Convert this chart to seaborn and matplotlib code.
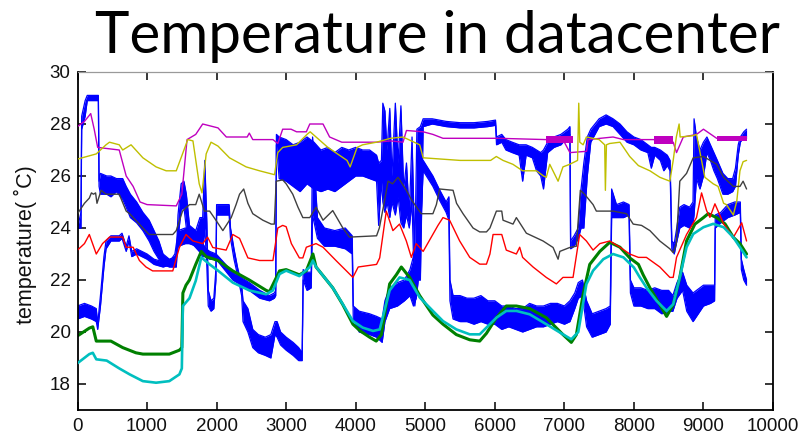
import matplotlib
matplotlib.use("Agg")
import matplotlib.pyplot as plt
import seaborn as sns

# ---------------- sensor readings (sample index -> temperature, deg C) ----------------
magenta_x = [0, 100, 190, 240, 290, 600, 700, 800, 900, 1000, 1420, 1500, 1575, 1700, 1800,
             2020, 2140, 2440, 2470, 2520, 2810, 2880, 2950, 3070, 3150, 3290, 3340, 3530, 3625,
             3800, 4036, 4300, 4500, 4680, 4730, 4970, 5110, 5255, 6050, 6740, 6980, 7080, 7320,
             7340, 7700, 7850, 8280, 8565, 8613, 8710, 8900, 9000, 9190, 9620]
magenta_t = [27.9, 28.1, 28.4, 27.8, 27.1, 27.0, 26.0, 25.6, 25.0, 24.9, 24.85, 25.3, 27.4, 27.6, 28.0,
             27.85, 27.5, 27.5, 27.65, 27.4, 27.4, 27.25, 27.8, 27.8, 27.7, 27.7, 28.0, 28.0, 27.5,
             27.3, 27.3, 27.3, 27.35, 27.3, 27.75, 27.7, 27.6, 27.45, 27.45, 27.4, 27.4, 26.9, 26.95,
             27.4, 27.5, 27.4, 27.4, 27.3, 26.9, 27.5, 27.6, 27.8, 27.45, 27.45]
# short stretches where the magenta sensor flickers between two levels
magenta_flicker_start = [6740, 8290, 9200]
magenta_flicker_end = [7120, 8560, 9620]
magenta_flicker_lo = [27.28, 27.22, 27.35]
magenta_flicker_hi = [27.52, 27.52, 27.55]

yellow_x = [0, 270, 410, 460, 600, 650, 770, 940, 1130, 1275, 1420, 1510, 1585, 1660, 1750,
            1790, 1850, 1920, 2020, 2185, 2425, 2617, 2833, 2880, 2950, 3150, 3300, 3345, 3600, 3875,
            3920, 4020, 4100, 4300, 4500, 4680, 4920, 4970, 5500, 5940, 6022, 6118, 6260, 6400, 6600,
            6700, 6740, 6790, 6910, 6980, 7077, 7190, 7207, 7222, 7270, 7317, 7500, 7580, 7590, 7605,
            7650, 7800, 7940, 8065, 8230, 8373, 8517, 8565, 8610, 8650, 8665, 8850, 8900, 9020, 9140,
            9210, 9290, 9330, 9430, 9480, 9525, 9570, 9620]
yellow_t = [26.65, 26.85, 27.2, 27.3, 27.2, 27.0, 27.2, 26.7, 26.35, 26.2, 26.2, 26.85, 27.4, 27.35, 25.7,
            25.35, 26.85, 27.3, 27.15, 26.7, 26.35, 26.2, 26.05, 26.9, 27.1, 27.2, 27.6, 27.7, 27.1, 26.6,
            26.35, 27.1, 27.2, 27.3, 27.45, 27.5, 27.2, 26.7, 26.6, 26.6, 26.75, 26.6, 26.45, 26.2, 26.2,
            26.0, 25.95, 26.45, 25.8, 26.35, 26.45, 26.6, 28.8, 27.3, 27.2, 27.5, 27.4, 27.2, 25.45, 27.2,
            27.25, 27.3, 26.75, 26.4, 26.2, 25.95, 25.8, 26.6, 27.5, 28.0, 27.5, 27.55, 27.6, 25.95, 25.7,
            25.6, 24.95, 24.9, 24.5, 25.05, 26.2, 26.55, 26.6]

gray_x = [0, 100, 170, 200, 230, 260, 280, 340, 410, 600, 700, 750, 940, 1030, 1370,
          1420, 1510, 1610, 1700, 1750, 1825, 1900, 1990, 2090, 2210, 2280, 2330, 2390, 2450, 2520,
          2665, 2785, 2830, 2857, 2950, 3000, 3095, 3170, 3240, 3340, 3430, 3480, 3530, 3670, 3815,
          3910, 4300, 4340, 4415, 4465, 4530, 4608, 4728, 4810, 4943, 5110, 5160, 5207, 5400, 5450,
          5543, 5687, 5783, 5880, 5930, 6023, 6100, 6118, 6262, 6310, 6454, 6694, 6838, 6910, 6935,
          7077, 7173, 7230, 7290, 7413, 7460, 7700, 7893, 7990, 8110, 8230, 8373, 8517, 8565, 8610,
          8660, 8757, 8853, 9000, 9190, 9290, 9430, 9525, 9570, 9620]
gray_t = [24.55, 24.95, 25.15, 25.35, 25.3, 25.35, 24.95, 25.45, 25.3, 25.3, 24.65, 24.55, 24.0, 23.75, 23.75,
          23.9, 24.65, 24.9, 24.9, 25.3, 24.65, 24.65, 24.3, 23.9, 24.4, 24.9, 25.3, 25.5, 24.95, 24.55,
          24.3, 24.15, 24.15, 25.8, 25.85, 25.7, 25.3, 24.8, 24.4, 24.4, 24.8, 24.55, 24.3, 24.67, 24.0,
          23.65, 23.7, 24.0, 25.05, 25.8, 25.7, 25.95, 25.45, 25.05, 24.55, 24.55, 24.9, 25.5, 25.45, 24.95,
          24.55, 24.0, 23.85, 23.85, 24.0, 24.65, 24.65, 24.3, 24.15, 24.4, 23.8, 23.5, 23.25, 22.8, 23.1,
          23.25, 23.3, 25.45, 25.3, 24.9, 24.65, 24.65, 24.55, 24.15, 24.1, 23.9, 23.5, 23.2, 23.05, 23.4,
          25.8, 26.1, 26.7, 26.75, 26.45, 25.95, 25.6, 25.6, 25.8, 25.5]

red_x = [0, 100, 170, 270, 360, 460, 650, 700, 800, 890, 985, 1080, 1370, 1465, 1560,
         1660, 1800, 1870, 1945, 2137, 2233, 2330, 2450, 2617, 2810, 2880, 2950, 3000, 3075, 3190,
         3240, 3290, 3430, 3530, 3720, 3863, 3960, 4036, 4300, 4345, 4440, 4535, 4630, 4728, 4800,
         4870, 4970, 5183, 5255, 5350, 5495, 5640, 5783, 5880, 5930, 5975, 6100, 6165, 6310, 6358,
         6400, 6550, 6740, 6885, 6980, 7125, 7220, 7317, 7413, 7510, 7653, 7800, 7940, 8065, 8180,
         8373, 8517, 8565, 8613, 8757, 8900, 8973, 9045, 9093, 9165, 9290, 9430, 9550, 9620]
red_t = [23.15, 23.4, 23.75, 23.0, 23.4, 23.65, 23.65, 23.26, 23.26, 22.75, 22.5, 22.35, 22.35, 23.25, 23.75,
         23.5, 23.4, 23.65, 23.25, 23.15, 23.75, 23.6, 22.85, 22.75, 22.75, 24.0, 24.1, 24.05, 23.4, 22.85,
         22.85, 23.26, 23.4, 23.26, 22.74, 22.36, 22.1, 22.5, 22.6, 22.85, 24.65, 23.9, 24.15, 23.5, 22.87,
         23.4, 23.1, 24.1, 24.4, 24.3, 23.5, 22.87, 22.61, 22.61, 23.0, 23.75, 23.75, 23.15, 23.0, 23.26,
         22.87, 22.5, 22.1, 21.85, 22.1, 22.1, 23.75, 23.5, 23.15, 23.4, 23.5, 23.26, 23.0, 22.87, 22.87,
         22.5, 22.1, 22.1, 22.87, 23.75, 24.4, 25.35, 24.67, 24.41, 24.93, 24.16, 23.64, 24.2, 23.5]

green_x = [0, 170, 220, 270, 480, 650, 840, 940, 1320, 1465, 1500, 1515, 1560, 1610, 1700,
           1780, 1850, 2020, 2233, 2470, 2713, 2760, 2905, 3000, 3190, 3290, 3385, 3430, 3670, 3815,
           3960, 4060, 4200, 4295, 4370, 4488, 4584, 4656, 4775, 4920, 5110, 5255, 5447, 5640, 5783,
           5880, 6023, 6165, 6310, 6502, 6740, 6980, 7100, 7173, 7270, 7365, 7510, 7653, 7800, 7940,
           8065, 8133, 8230, 8373, 8470, 8565, 8660, 8757, 8877, 9000, 9068, 9190, 9310, 9430, 9525,
           9620]
green_t = [19.85, 20.15, 20.2, 19.65, 19.65, 19.4, 19.2, 19.15, 19.15, 19.3, 19.4, 21.5, 21.8, 22.0, 22.6,
           23.1, 22.9, 22.75, 22.35, 22.0, 21.6, 21.55, 22.35, 22.4, 22.2, 22.35, 23.0, 22.5, 21.7, 21.05,
           20.3, 20.05, 19.8, 19.65, 19.9, 21.85, 22.2, 22.5, 22.1, 21.4, 20.65, 20.3, 19.9, 19.7, 19.65,
           19.95, 20.55, 21.0, 21.0, 20.9, 20.55, 19.9, 19.6, 19.9, 21.45, 22.6, 23.1, 23.45, 23.26, 22.85,
           22.6, 22.2, 21.7, 21.05, 20.6, 21.05, 22.1, 23.5, 24.15, 24.4, 24.55, 24.4, 24.16, 23.64, 23.4,
           23.0]

cyan_x = [0, 170, 220, 270, 420, 600, 750, 940, 1130, 1320, 1465, 1500, 1515, 1610, 1700,
          1780, 1900, 2020, 2233, 2470, 2713, 2810, 2905, 3000, 3190, 3340, 3385, 3430, 3670, 3815,
          3960, 4100, 4250, 4345, 4488, 4630, 4775, 4920, 5110, 5255, 5447, 5640, 5783, 5880, 6023,
          6165, 6310, 6502, 6740, 6980, 7100, 7200, 7317, 7413, 7560, 7700, 7850, 8000, 8085, 8180,
          8325, 8470, 8565, 8660, 8757, 8853, 9000, 9140, 9290, 9430, 9525, 9620]
cyan_t = [18.8, 19.15, 19.2, 18.95, 18.9, 18.6, 18.37, 18.11, 18.05, 18.11, 18.37, 18.6, 21.0, 21.3, 21.97,
          22.87, 22.6, 22.36, 21.9, 21.6, 21.45, 21.6, 22.23, 22.36, 22.15, 22.5, 22.75, 22.5, 21.7, 21.07,
          20.42, 20.17, 20.04, 20.1, 21.6, 22.1, 22.0, 21.33, 20.81, 20.42, 20.1, 19.91, 19.91, 20.17, 20.55,
          20.81, 20.81, 20.68, 20.3, 19.91, 19.72, 20.0, 21.84, 22.36, 22.8, 23.0, 22.87, 22.48, 22.1, 21.71,
          21.2, 20.81, 21.07, 22.1, 23.26, 23.77, 24.03, 24.16, 24.03, 23.64, 23.26, 22.87]

# the two noisy blue sensors: lower / upper edge of the jitter band at each sample
blue1_x = [0, 50, 60, 110, 140, 300, 310, 330, 420, 480,
           560, 650, 700, 760, 850, 940, 1030, 1100, 1170, 1230,
           1320, 1420, 1445, 1490, 1530, 1565, 1610, 1700, 1760, 1800,
           1830, 1860, 1880, 1920, 1960, 1990, 2000, 2180, 2200, 2250,
           2300, 2360, 2380, 2450, 2520, 2600, 2700, 2780, 2840, 2870,
           2920, 3000, 3100, 3180, 3230, 3245, 3300, 3360, 3380, 3450,
           3550, 3700, 3850, 3950, 3965, 4050, 4200, 4300, 4380, 4420,
           4488, 4600, 4700, 4780, 4830, 4870, 4900, 4970, 5110, 5200,
           5300, 5340, 5355, 5400, 5500, 5600, 5700, 5800, 5900, 6000,
           6100, 6200, 6300, 6400, 6500, 6600, 6700, 6800, 6900, 7000,
           7080, 7150, 7200, 7260, 7320, 7400, 7500, 7600, 7660, 7680,
           7750, 7850, 7930, 7950, 8000, 8100, 8200, 8300, 8400, 8500,
           8560, 8620, 8700, 8760, 8850, 8900, 9000, 9100, 9160, 9170,
           9250, 9350, 9450, 9530, 9545, 9580, 9620]
blue1_lo = [24.0, 24.0, 27.8, 28.3, 28.9, 28.9, 25.6, 25.3, 25.3, 25.2,
            25.4, 25.1, 24.8, 24.4, 24.2, 23.9, 23.5, 23.1, 22.8, 22.6,
            22.5, 22.5, 23.6, 24.7, 24.8, 24.0, 23.4, 23.3, 23.5, 23.2,
            24.0, 22.5, 21.0, 20.8, 20.9, 22.0, 24.5, 24.5, 23.6, 22.8,
            22.2, 21.4, 20.4, 20.0, 19.4, 19.2, 19.1, 19.0, 19.9, 19.8,
            19.5, 19.3, 19.1, 18.9, 18.9, 22.0, 21.6, 21.7, 24.5, 23.6,
            23.3, 23.3, 23.2, 23.0, 20.5, 20.0, 19.9, 19.8, 19.6, 20.4,
            20.9, 21.0, 21.2, 21.4, 21.0, 21.3, 22.0, 26.2, 25.6, 25.1,
            24.6, 24.3, 21.2, 20.5, 20.4, 20.4, 20.3, 20.4, 20.3, 20.3,
            20.1, 20.2, 20.1, 20.0, 20.1, 20.2, 20.2, 20.3, 20.4, 20.3,
            20.4, 20.9, 21.3, 21.4, 20.2, 19.8, 19.9, 20.0, 20.3, 24.4,
            24.4, 24.4, 24.5, 21.5, 21.0, 21.0, 20.9, 20.9, 20.7, 20.8,
            20.8, 21.3, 21.6, 20.8, 20.4, 20.6, 21.0, 21.1, 21.2, 24.0,
            24.2, 24.4, 24.5, 24.6, 22.4, 22.0, 21.8]
blue1_hi = [24.0, 24.6, 28.3, 28.9, 29.1, 29.1, 25.8, 26.1, 26.0, 26.0,
            25.9, 25.9, 25.6, 25.3, 25.0, 24.6, 24.3, 23.9, 23.5, 23.0,
            22.8, 22.9, 24.5, 25.7, 25.8, 25.3, 24.1, 23.9, 24.4, 24.4,
            26.6, 24.2, 21.6, 21.2, 21.3, 22.4, 24.9, 24.9, 24.0, 23.2,
            22.5, 21.8, 21.2, 20.9, 20.1, 19.9, 19.8, 19.9, 20.4, 20.4,
            20.0, 19.8, 19.6, 19.4, 19.2, 22.4, 22.3, 22.3, 27.5, 24.4,
            24.0, 23.9, 24.0, 23.7, 21.0, 20.8, 20.7, 20.6, 20.5, 21.2,
            21.7, 21.9, 22.0, 22.4, 22.9, 21.8, 26.5, 26.6, 26.0, 25.5,
            25.0, 25.2, 22.0, 21.4, 21.4, 21.3, 21.3, 21.4, 21.2, 21.2,
            21.0, 21.0, 20.9, 20.9, 21.1, 21.0, 21.0, 21.1, 21.1, 21.0,
            21.2, 21.5, 21.9, 22.0, 21.2, 20.7, 20.8, 20.9, 21.0, 25.5,
            24.9, 25.0, 24.9, 22.0, 21.7, 21.7, 21.6, 21.7, 21.6, 21.6,
            21.4, 21.9, 22.3, 21.8, 21.5, 21.6, 21.8, 21.8, 21.8, 24.5,
            24.6, 24.9, 25.0, 25.0, 22.8, 22.4, 22.0]

blue2_x = [0, 100, 200, 270, 290, 330, 380, 410, 480, 600,
           640, 700, 740, 780, 850, 1000, 1100, 1230, 1350, 1400,
           1450, 1550, 1650, 1750, 1800, 1850, 1900, 1993, 2233, 2470,
           2620, 2760, 2830, 2850, 2860, 2900, 3000, 3100, 3200, 3300,
           3400, 3500, 3600, 3700, 3800, 3900, 4000, 4100, 4200, 4300,
           4330, 4370, 4390, 4420, 4450, 4490, 4520, 4570, 4610, 4650,
           4690, 4730, 4770, 4810, 4850, 4880, 4930, 4970, 5100, 5300,
           5500, 5700, 5900, 6010, 6025, 6100, 6160, 6250, 6350, 6400,
           6450, 6540, 6600, 6660, 6700, 6760, 6850, 6950, 7050, 7080,
           7090, 7140, 7200, 7240, 7280, 7330, 7380, 7440, 7500, 7600,
           7700, 7800, 7900, 8000, 8100, 8200, 8250, 8300, 8380, 8430,
           8480, 8520, 8545, 8580, 8610, 8660, 8720, 8800, 8850, 8865,
           8900, 8950, 9000, 9050, 9100, 9150, 9200, 9280, 9350, 9420,
           9460, 9500, 9530, 9580, 9620]
blue2_lo = [20.5, 20.6, 20.5, 20.4, 20.1, 21.0, 22.5, 23.2, 23.5, 23.5,
            23.6, 23.1, 23.5, 22.9, 23.0, 22.8, 22.6, 22.5, 22.6, 22.8,
            23.3, 23.4, 23.4, 23.1, 22.9, 22.9, 22.8, 22.8, 22.0, 21.6,
            21.3, 21.2, 21.3, 21.4, 27.2, 25.9, 25.8, 25.6, 25.4, 25.7,
            25.5, 25.4, 25.5, 25.4, 25.6, 25.8, 26.0, 26.0, 25.9, 25.8,
            24.1, 25.8, 25.0, 24.6, 25.0, 24.4, 25.0, 24.5, 25.2, 24.2,
            24.0, 24.5, 24.0, 25.0, 21.0, 22.0, 22.0, 27.9, 28.0, 27.9,
            27.85, 27.85, 27.9, 27.95, 27.2, 27.3, 27.0, 26.9, 26.8, 25.8,
            26.8, 26.7, 26.2, 26.0, 25.5, 26.9, 27.1, 27.2, 27.5, 27.6,
            23.2, 23.3, 23.6, 24.0, 24.0, 26.0, 27.3, 27.6, 27.9, 28.0,
            27.9, 27.6, 27.3, 27.2, 27.0, 26.9, 26.3, 26.8, 26.6, 26.2,
            26.4, 26.2, 23.2, 23.0, 23.4, 24.0, 24.1, 24.0, 24.2, 24.5,
            25.9, 25.5, 26.0, 26.9, 26.6, 26.2, 25.9, 25.3, 25.3, 25.4,
            25.6, 26.8, 27.3, 27.5, 27.5]
blue2_hi = [21.0, 21.1, 21.0, 20.9, 20.3, 21.4, 22.9, 23.5, 23.7, 23.7,
            23.8, 23.3, 23.7, 23.1, 23.2, 23.0, 22.8, 22.7, 22.8, 23.0,
            23.9, 24.0, 23.8, 23.6, 23.4, 23.2, 23.1, 23.0, 22.3, 21.9,
            21.6, 21.4, 21.5, 21.6, 27.6, 27.5, 27.4, 27.2, 27.3, 27.5,
            27.3, 27.0, 27.1, 26.9, 27.1, 27.0, 27.1, 27.0, 27.0, 26.8,
            26.5, 26.6, 28.8, 28.5, 27.0, 28.6, 26.0, 28.8, 26.5, 28.7,
            25.5, 26.5, 24.5, 27.5, 23.0, 27.8, 27.9, 28.2, 28.2, 28.1,
            28.05, 28.05, 28.1, 28.15, 27.5, 27.6, 27.4, 27.3, 27.2, 27.2,
            27.2, 27.1, 27.0, 26.9, 27.0, 27.3, 27.5, 27.6, 27.8, 27.9,
            23.5, 23.7, 24.0, 25.5, 26.5, 27.5, 27.8, 28.0, 28.2, 28.35,
            28.2, 28.0, 27.7, 27.5, 27.4, 27.2, 27.1, 27.1, 27.0, 26.9,
            26.8, 26.6, 23.5, 23.4, 23.9, 24.8, 24.9, 24.8, 25.0, 28.2,
            27.5, 27.0, 27.3, 27.5, 27.2, 26.9, 26.6, 26.1, 25.9, 25.9,
            26.3, 27.2, 27.5, 27.7, 27.8]

x_ticks = [0, 1000, 2000, 3000, 4000, 5000, 6000, 7000, 8000, 9000, 10000]
y_ticks = [18, 20, 22, 24, 26, 28, 30]
title_text = "Temperature in datacenter"
y_label = "temperature( \u02daC)"

# MATLAB-style default colour order
BLUE = (0.0, 0.0, 1.0)
GREEN = (0.0, 0.5, 0.0)
RED = (1.0, 0.0, 0.0)
CYAN = (0.0, 0.75, 0.75)
MAGENTA = (0.75, 0.0, 0.75)
YELLOW = (0.75, 0.75, 0.0)
DARK = (0.25, 0.25, 0.25)

sns.set_theme(style="white")
plt.rcParams["font.family"] = ["Liberation Sans", "DejaVu Sans"]

W, H = 808, 440
fig = plt.figure(figsize=(W / 100, H / 100), dpi=100)
left, right, top, bottom = 77.5, 773.0, 72.0, 410.0
ax = fig.add_axes([left / W, (H - bottom) / H, (right - left) / W, (bottom - top) / H])


def trace(x, y, color, lw, z):
    sns.lineplot(x=x, y=y, color=color, linewidth=lw, sort=False, estimator=None,
                 ax=ax, zorder=z, legend=False)


def jitter_band(x, lo, hi, color, z):
    ax.fill_between(x, lo, hi, color=color, linewidth=0, zorder=z)
    trace(x, lo, color, 0.9, z)
    trace(x, hi, color, 0.9, z)


jitter_band(blue1_x, blue1_lo, blue1_hi, BLUE, 1)
jitter_band(blue2_x, blue2_lo, blue2_hi, BLUE, 1.1)
trace(green_x, green_t, GREEN, 2.2, 2)
trace(red_x, red_t, RED, 1.0, 3)
trace(cyan_x, cyan_t, CYAN, 1.9, 4)
trace(magenta_x, magenta_t, MAGENTA, 1.0, 5)
for s, e, lo, hi in zip(magenta_flicker_start, magenta_flicker_end,
                        magenta_flicker_lo, magenta_flicker_hi):
    ax.fill_between([s, e], [lo, lo], [hi, hi], color=MAGENTA, linewidth=0, zorder=5)
trace(yellow_x, yellow_t, YELLOW, 1.0, 6)
trace(gray_x, gray_t, DARK, 1.0, 7)

ax.set_xlim(0, 10000)
ax.set_ylim(17, 30)
ax.set_xticks(x_ticks)
ax.set_yticks(y_ticks)
ax.set_xticklabels([str(v) for v in x_ticks])
ax.set_yticklabels([str(v) for v in y_ticks])
ax.tick_params(direction="in", length=6, width=1.1, color="black", labelsize=13.5,
               labelcolor="#111111", top=True, right=True, bottom=True, left=True)
ax.tick_params(axis="x", pad=6)
ax.tick_params(axis="y", pad=5)
ax.set_xlabel("")
ax.set_ylabel(y_label, fontsize=15.5, color="#111111")
ax.yaxis.set_label_coords((37 - left) / (right - left), 0.49)
ax.grid(False)
for name in ["left", "right", "bottom"]:
    ax.spines[name].set_color("black")
    ax.spines[name].set_linewidth(1.3)
    ax.spines[name].set_visible(True)
ax.spines["top"].set_color("#9a9a9a")
ax.spines["top"].set_linewidth(0.9)
ax.spines["top"].set_visible(True)

title = fig.text(437.5 / W, 1 - 53 / H, title_text, ha="center", va="baseline",
                 fontsize=44, family=["Lato", "DejaVu Sans"], color="black")
fig.canvas.draw()
tw = title.get_window_extent().width
title.set_fontsize(44 * 685.0 / tw)

fig.savefig("out.png", dpi=100)
